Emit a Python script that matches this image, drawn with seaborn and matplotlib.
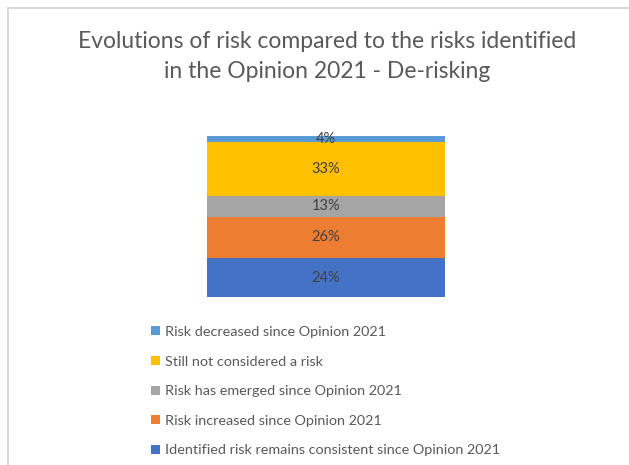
import numpy as np
import pandas as pd
import matplotlib
matplotlib.use("Agg")
import matplotlib.pyplot as plt
from matplotlib.patches import Patch
from matplotlib.lines import Line2D
import seaborn as sns

# data, bottom to top of the stack
categories = ["Identified risk remains consistent since Opinion 2021",
              "Risk increased since Opinion 2021",
              "Risk has emerged since Opinion 2021",
              "Still not considered a risk",
              "Risk decreased since Opinion 2021"]
shares = [24, 26, 13, 33, 4]
colors = ["#4472C4", "#ED7D31", "#A5A5A5", "#FFC000", "#5B9BD5"]

sns.set_style("white")
plt.rcParams["font.family"] = ["Lato", "DejaVu Sans"]

fig = plt.figure(figsize=(6.29, 4.65), dpi=100)
ax = fig.add_axes([207/629, 1-297/465, 238/629, 161/465])

cum = np.cumsum(shares)
# draw from top of stack down so each lower segment covers the taller one
for i in range(len(shares)-1, -1, -1):
    df = pd.DataFrame({"x": ["De-risking"], "y": [cum[i]]})
    sns.barplot(data=df, x="x", y="y", color=colors[i], width=1.0,
                saturation=1, linewidth=0, ax=ax)

bottoms = cum - np.array(shares)
for b, s in zip(bottoms, shares):
    ax.text(0, b + s/2, f"{s}%", ha="center", va="center",
            fontsize=10.5, color="#404040")

ax.set_xlim(-0.5, 0.5)
ax.set_ylim(0, 100)
ax.axis("off")

fig.text(327/629, 1-42/465, "Evolutions of risk compared to the risks identified",
         ha="center", va="center", fontsize=16.5, color="#595959")
fig.text(327/629, 1-72/465, "in the Opinion 2021 - De-risking",
         ha="center", va="center", fontsize=16.5, color="#595959")

handles = [Patch(facecolor=c, edgecolor="none") for c in colors][::-1]
fig.legend(handles, categories[::-1], loc="upper left",
           bbox_to_anchor=(151/629, 1-326/465), frameon=False,
           fontsize=10.4, labelcolor="#595959", handlelength=0.6,
           handleheight=0.6, handletextpad=0.35, labelspacing=1.22,
           borderaxespad=0, borderpad=0)

# chart frame edges visible in the reference
fig.add_artist(Line2D([8/629, 1], [1-8/465, 1-8/465], color="#D9D9D9", lw=1.5))
fig.add_artist(Line2D([8/629, 8/629], [0, 1-8/465], color="#D9D9D9", lw=1.5))

fig.savefig("out.png", dpi=100)
